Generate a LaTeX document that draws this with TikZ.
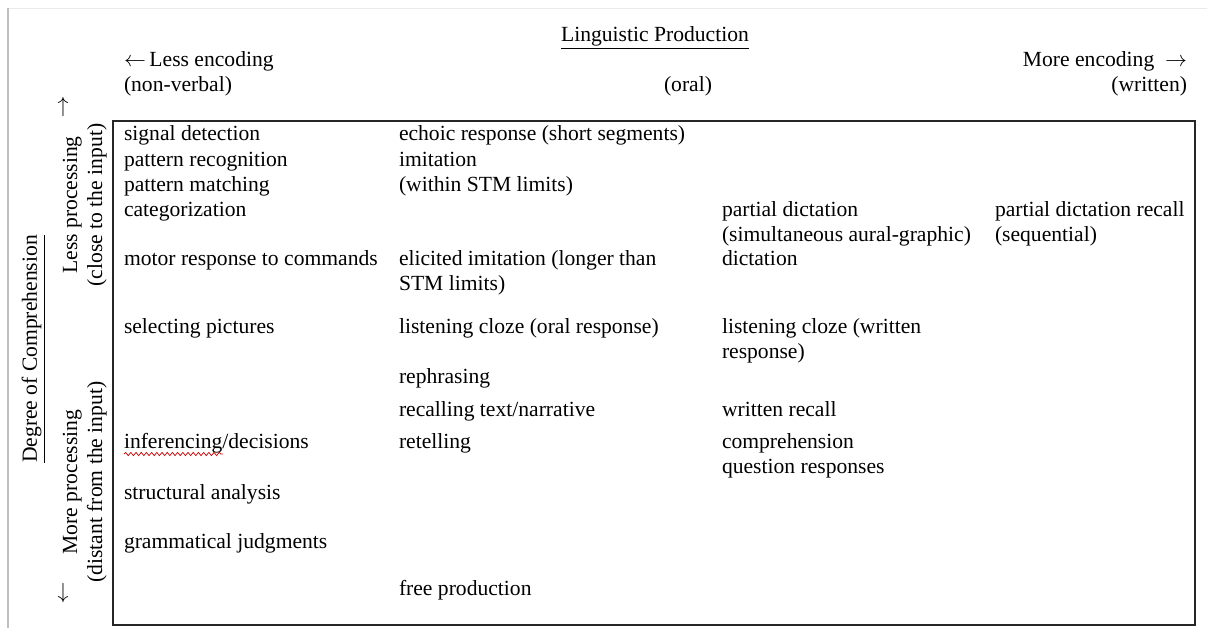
\documentclass[tikz,border=0pt]{standalone}
\usepackage{fontspec}
\setmainfont{Liberation Serif}
\usetikzlibrary{decorations.pathmorphing}
\begin{document}
\begin{tikzpicture}[x=0.5pt,y=-0.5pt,
  txt/.style={inner sep=0pt,outer sep=0pt,font=\fontsize{10.8}{12.5}\selectfont},
  cell/.style={txt,anchor=base west},
  vlab/.style={txt,rotate=90,anchor=base}]
\useasboundingbox (0,0) rectangle (1207,628);
\fill[white] (0,0) rectangle (1207,628);
% page edge
\draw[black!8,line width=0.5pt] (8,8) -- (1207,8);
\draw[black!25,line width=0.8pt] (8,628) -- (8,8);
% frame
\draw[black!85,line width=0.6pt] (113,121) rectangle (1195,625);
\begin{scope}[yshift=-1pt]
% header
\node[txt,anchor=base] (lp) at (655,39) {\underline{Linguistic Production}};
\node[cell] (le) at (124,64) {$\leftarrow$\,Less encoding};
\node[cell] (nv) at (124,89) {(non-verbal)};
\node[txt,anchor=base] (oral) at (688,89) {(oral)};
\node[txt,anchor=base east] (me) at (1187,64) {More encoding\enspace$\rightarrow$};
\node[txt,anchor=base east] (wr) at (1187,89) {(written)};
% left side
\node[txt,anchor=base] (up) at (63,110) {$\uparrow$};
\node[txt,anchor=base] (dn) at (63,596) {$\downarrow$};
\node[vlab] (doc) at (37,347) {\underline{Degree of Comprehension}};
\node[vlab] (lp1) at (77,203) {Less processing};
\node[vlab] (lp2) at (102,203) {(close to the input)};
\node[vlab] (mp1) at (77,480) {More processing};
\node[vlab] (mp2) at (102,480) {(distant from the input)};
% column 1
\node[cell] (a1) at (124,138) {signal detection};
\node[cell] (a2) at (124,164) {pattern recognition};
\node[cell] (a3) at (124,189) {pattern matching};
\node[cell] (a4) at (124,214) {categorization};
\node[cell] (a5) at (124,263) {motor response to commands};
\node[cell] (a6) at (124,331) {selecting pictures};
\node[cell] (a7) at (124,446) {inferencing/decisions};
\node[cell] (a8) at (124,497) {structural analysis};
\node[cell] (a9) at (124,546) {grammatical judgments};
% column 2
\node[cell] (b1) at (399,138) {echoic response (short segments)};
\node[cell] (b2) at (399,164) {imitation};
\node[cell] (b3) at (399,189) {(within STM limits)};
\node[cell] (b4) at (399,263) {elicited imitation (longer than};
\node[cell] (b5) at (399,288) {STM limits)};
\node[cell] (b6) at (399,331) {listening cloze (oral response)};
\node[cell] (b7) at (399,381) {rephrasing};
\node[cell] (b8) at (399,414) {recalling text/narrative};
\node[cell] (b9) at (399,446) {retelling};
\node[cell] (b10) at (399,593) {free production};
% column 3
\node[cell] (c1) at (722,214) {partial dictation};
\node[cell] (c2) at (722,239) {(simultaneous aural-graphic)};
\node[cell] (c3) at (722,263) {dictation};
\node[cell] (c4) at (722,331) {listening cloze (written};
\node[cell] (c5) at (722,356) {response)};
\node[cell] (c6) at (722,414) {written recall};
\node[cell] (c7) at (722,446) {comprehension};
\node[cell] (c8) at (722,471) {question responses};
% column 4
\node[cell] (d1) at (995,214) {partial dictation recall};
\node[cell] (d2) at (995,239) {(sequential)};
% spell-check squiggle
\draw[red!80!black,line width=0.35pt,decorate,decoration={snake,amplitude=0.8,segment length=2.6}] (124,452) -- (223,452);
\end{scope}
\end{tikzpicture}
\end{document}
